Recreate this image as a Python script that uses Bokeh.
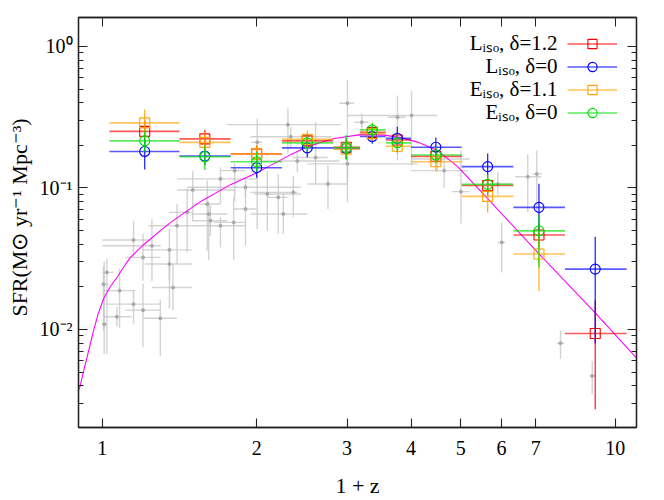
from bokeh.plotting import figure
from bokeh.models import (ColumnDataSource, FixedTicker, LogAxis, CustomJSTickFormatter,
                          Legend, LegendItem, Label, Range1d)
from bokeh.embed import file_html
from bokeh.resources import INLINE

# ---------------- data ----------------
bin_x = [1.21, 1.585, 2.0, 2.51, 2.99, 3.36, 3.76, 4.47, 5.64, 7.10, 9.14]
bin_lo = [1.033, 1.414, 1.78, 2.24, 2.82, 3.18, 3.57, 4.0, 5.02, 6.33, 7.98]
bin_hi = [1.414, 1.78, 2.24, 2.82, 3.18, 3.57, 4.0, 5.02, 6.33, 7.98, 10.52]

red_y = [0.251, 0.222, 0.174, 0.215, 0.194, 0.247, 0.218, 0.167, 0.104, 0.0465, 0.00937]
red_lo = [0.205, 0.19, 0.15, 0.19, 0.165, 0.225, 0.195, 0.15, 0.088, 0.037, 0.00273]
red_hi = [0.30, 0.257, 0.20, 0.24, 0.225, 0.27, 0.24, 0.185, 0.12, 0.056, 0.016]

blue_y = [0.181, 0.168, 0.139, 0.192, 0.190, 0.231, 0.224, 0.194, 0.1415, 0.0729, 0.0267]
blue_lo = [0.135, 0.145, 0.118, 0.165, 0.16, 0.205, 0.195, 0.165, 0.12, 0.05, 0.00795]
blue_hi = [0.22, 0.19, 0.16, 0.215, 0.215, 0.26, 0.271, 0.227, 0.175, 0.107, 0.0452]

orange_y = [0.288, 0.21, 0.174, 0.221, 0.188, 0.242, 0.197, 0.153, 0.0872, 0.0341]
orange_lo = [0.23, 0.18, 0.15, 0.19, 0.165, 0.215, 0.175, 0.131, 0.067, 0.0187]
orange_hi = [0.358, 0.245, 0.20, 0.255, 0.215, 0.275, 0.225, 0.175, 0.11, 0.046]

green_y = [0.215, 0.166, 0.153, 0.208, 0.193, 0.257, 0.208, 0.171, 0.106, 0.0497]
green_lo = [0.18, 0.134, 0.13, 0.18, 0.156, 0.225, 0.18, 0.15, 0.09, 0.0274]
green_hi = [0.255, 0.20, 0.18, 0.24, 0.237, 0.29, 0.24, 0.195, 0.125, 0.065]

curve_x = [0.899, 0.9058, 0.918, 0.9335, 0.9616, 0.982, 1.0059, 1.0366, 1.068, 1.1005,
           1.134, 1.204, 1.2981, 1.3578, 1.5536, 1.7783, 2.0053, 2.3295, 2.5107, 2.8295,
           3.1906, 3.5433, 3.8194, 4.118, 4.5053, 4.9291, 5.6405, 7.0957, 9.1403, 11.04]
curve_y = [0.0037, 0.004, 0.00494, 0.00631, 0.00979, 0.0129, 0.01649, 0.02004, 0.0233,
           0.0275, 0.0322, 0.0397, 0.04989, 0.05683, 0.08, 0.1055, 0.1283, 0.1719, 0.1959,
           0.2232, 0.2382, 0.2362, 0.2268, 0.2108, 0.1836, 0.1415, 0.084, 0.0343, 0.01312,
           0.006206]

gray_x = [1.151, 1.25, 1.021, 1.006, 1.081, 1.151, 1.201, 1.298, 1.009, 1.068, 1.201,
          1.352, 1.352, 1.374, 1.399, 1.464, 1.501, 1.602, 1.613, 1.625, 1.70, 1.70,
          1.804, 1.902, 1.812, 1.902, 2.098, 2.204, 2.254, 3.006, 2.301, 2.005, 2.606,
          3.006, 2.754, 2.358, 3.763, 4.008, 3.206, 5.003, 4.64, 6.752, 7.031, 6.008,
          7.822, 9.018, 5.901, 2.33, 2.4, 4.5]
gray_xlo = [1.00, 1.00, 1.00, 1.00, 1.006, 1.014, 1.109, 1.204, 1.00, 1.006, 1.109,
            1.195, 1.21, 1.25, 1.23, 1.35, 1.399, 1.50, 1.497, 1.497, 1.497, 1.399,
            1.65, 1.80, 1.70, 1.464, 1.98, 2.1, 1.945, 2.9, 1.75, 1.95, 2.35,
            2.51, 2.51, 1.945, 3.6, 3.006, 3.1, 4.8, 4.0, 6.377, 6.9, 5.9,
            7.7, 8.9, 5.6, 1.945, 1.945, 4.0]
gray_xhi = [1.25, 1.30, 1.052, 1.03, 1.16, 1.298, 1.298, 1.399, 1.02, 1.14, 1.298,
            1.497, 1.497, 1.497, 1.497, 1.50, 1.819, 1.70, 1.752, 1.752, 1.902, 2.005,
            1.902, 2.0, 1.90, 2.436, 2.44, 2.3, 2.51, 3.1, 2.916, 2.05, 2.75,
            4.12, 3.006, 2.40, 3.9, 4.505, 3.3, 5.2, 5.16, 7.169, 7.2, 6.1,
            7.95, 9.15, 6.3, 2.8, 2.9, 5.2]
gray_y = [0.0429, 0.039, 0.0253, 0.0209, 0.0188, 0.0151, 0.0137, 0.012, 0.0109, 0.0123, 0.0323,
          0.0365, 0.029, 0.0198, 0.0541, 0.0672, 0.0968, 0.077, 0.0654, 0.0587, 0.0541, 0.1158,
          0.0571, 0.071, 0.1325, 0.101, 0.0907, 0.0858, 0.0654, 0.397, 0.28, 0.21, 0.164,
          0.148, 0.1067, 0.0931, 0.316, 0.325, 0.291, 0.0941, 0.1325, 0.12, 0.1256, 0.0412,
          0.008, 0.0047, 0.1067, 0.23, 0.155, 0.16]
gray_ylo = [0.0323, 0.022, 0.0067, 0.0098, 0.0103, 0.011, 0.0075, 0.0065, 0.0067, 0.0105, 0.0221,
            0.014, 0.022, 0.0137, 0.029, 0.035, 0.0587, 0.036, 0.031, 0.046, 0.038, 0.077,
            0.031, 0.0391, 0.081, 0.085, 0.0499, 0.0475, 0.0475, 0.0791, 0.175, 0.0513, 0.1067,
            0.11, 0.071, 0.062, 0.156, 0.1438, 0.247, 0.056, 0.10, 0.0672, 0.068, 0.0253,
            0.0062, 0.0035, 0.09, 0.19, 0.13, 0.13]
gray_yhi = [0.0587, 0.06, 0.0316, 0.028, 0.0269, 0.019, 0.021, 0.0163, 0.030, 0.0145, 0.0475,
            0.0515, 0.036, 0.029, 0.0774, 0.0989, 0.1325, 0.1127, 0.081, 0.075, 0.062, 0.14,
            0.0858, 0.1067, 0.148, 0.12, 0.1325, 0.1256, 0.0907, 0.58, 0.364, 0.308, 0.291,
            0.2, 0.1438, 0.122, 0.45, 0.482, 0.337, 0.184, 0.17, 0.172, 0.184, 0.0571,
            0.0098, 0.006, 0.13, 0.27, 0.18, 0.19]

x_ticks = [1, 2, 3, 4, 5, 6, 7, 10]
y_ticks = [0.01, 0.1, 1]
y_minor = [m * d for d in (0.001, 0.01, 0.1, 1.0) for m in range(2, 10)]

series = [
    ("L\u1d62\u209b\u2092, \u03b4=1.2", red_y, red_lo, red_hi, "#ff0000", "square"),
    ("L\u1d62\u209b\u2092, \u03b4=0", blue_y, blue_lo, blue_hi, "#0000ff", "circle"),
    ("E\u1d62\u209b\u2092, \u03b4=1.1", orange_y, orange_lo, orange_hi, "#ffa500", "square"),
    ("E\u1d62\u209b\u2092, \u03b4=0", green_y, green_lo, green_hi, "#00e000", "circle"),
]

FONT = "Liberation Serif"
FS = "20px"

# ---------------- figure ----------------
p = figure(width=664, height=500, x_axis_type="log", y_axis_type="log",
           x_range=Range1d(0.899, 11.0), y_range=Range1d(0.00203, 1.60),
           output_backend="svg", toolbar_location=None,
           min_border_left=78, min_border_right=28, min_border_top=17, min_border_bottom=73)
p.xgrid.visible = False
p.ygrid.visible = False
p.outline_line_color = "#222222"
p.outline_line_width = 1.3
p.background_fill_color = "white"
p.border_fill_color = "white"

# gray compilation
gsrc = ColumnDataSource(dict(x=gray_x, xlo=gray_xlo, xhi=gray_xhi,
                             y=gray_y, ylo=gray_ylo, yhi=gray_yhi))
p.segment(x0="xlo", x1="xhi", y0="y", y1="y", source=gsrc,
          line_color="#c4c4c4", line_width=1.4, line_alpha=0.75)
p.segment(x0="x", x1="x", y0="ylo", y1="yhi", source=gsrc,
          line_color="#c4c4c4", line_width=1.4, line_alpha=0.75)
p.scatter("x", "y", source=gsrc, size=3, color="#a8a8a8")

# curve
p.line(curve_x, curve_y, line_color="#ff00ff", line_width=1.1)

items = []
for label, ys, ylo, yhi, col, mk in series:
    n = len(ys)
    src = ColumnDataSource(dict(x=bin_x[:n], xlo=bin_lo[:n], xhi=bin_hi[:n],
                                y=ys, ylo=ylo, yhi=yhi))
    h = p.segment(x0="xlo", x1="xhi", y0="y", y1="y", source=src,
                  line_color=col, line_width=1.6, line_alpha=0.65)
    p.segment(x0="x", x1="x", y0="ylo", y1="yhi", source=src,
              line_color=col, line_width=1.3, line_alpha=0.85)
    s = p.scatter("x", "y", source=src, marker=mk, size=10,
                  fill_color=None, line_color=col, line_width=1.1)
    items.append(LegendItem(label=" ", renderers=[h, s]))

legend = Legend(items=items, location="top_right", glyph_width=50, glyph_height=23,
                spacing=0, padding=0, margin=15, label_standoff=4, label_width=0,
                label_height=0, label_text_font_size="1px",
                background_fill_alpha=0, border_line_alpha=0)
p.add_layout(legend)

for i, (label, *_rest) in enumerate(series):
    p.add_layout(Label(x=479, y=385 - 23 * i, x_units="screen", y_units="screen",
                       text=label, text_align="right", text_baseline="middle",
                       text_font=FONT, text_font_size="21px", text_color="black"))

# ---------------- axes ----------------
xfmt = CustomJSTickFormatter(code="return tick.toString();")
yfmt = CustomJSTickFormatter(code="""
const e = Math.round(Math.log10(tick));
const m = {"-":"\\u207b","0":"\\u2070","1":"\\u00b9","2":"\\u00b2","3":"\\u00b3"};
return "10" + String(e).split("").map(c => m[c]).join("");
""")
blank = CustomJSTickFormatter(code="return '';")

def style(ax):
    ax.major_tick_in = 9
    ax.major_tick_out = 0
    ax.minor_tick_in = 5
    ax.minor_tick_out = 0
    ax.axis_line_color = "#222222"
    ax.axis_line_width = 1.3
    ax.major_tick_line_color = "#222222"
    ax.minor_tick_line_color = "#222222"
    ax.major_tick_line_width = 1.1
    ax.minor_tick_line_width = 1.0
    ax.major_label_text_font = FONT
    ax.major_label_text_font_size = FS
    ax.major_label_text_color = "black"
    ax.axis_label_text_font = FONT
    ax.axis_label_text_font_size = "22px"
    ax.axis_label_text_font_style = "normal"
    ax.axis_label_text_color = "black"

xa = p.xaxis[0]
xa.ticker = FixedTicker(ticks=x_ticks, minor_ticks=[])
xa.formatter = xfmt
style(xa)
xa.major_label_standoff = 13
xa.axis_label = "1 + z"
xa.axis_label_standoff = 15

ya = p.yaxis[0]
ya.ticker = FixedTicker(ticks=y_ticks, minor_ticks=y_minor)
ya.formatter = yfmt
style(ya)
ya.major_label_standoff = 6
ya.axis_label = "SFR(M\u2299 yr\u207b\u00b9 Mpc\u207b\u00b3)"
ya.axis_label_standoff = 5

# top: all tick positions drawn as (label-less) minor ticks of full length
top = LogAxis(ticker=FixedTicker(ticks=[], minor_ticks=x_ticks), formatter=blank)
style(top)
top.minor_tick_in = 9
top.major_label_standoff = 0
p.add_layout(top, "above")

right = LogAxis(ticker=FixedTicker(ticks=y_ticks, minor_ticks=y_minor), formatter=blank)
style(right)
right.major_label_standoff = 0
p.add_layout(right, "right")

open("out.html", "w").write(file_html(p, INLINE))
